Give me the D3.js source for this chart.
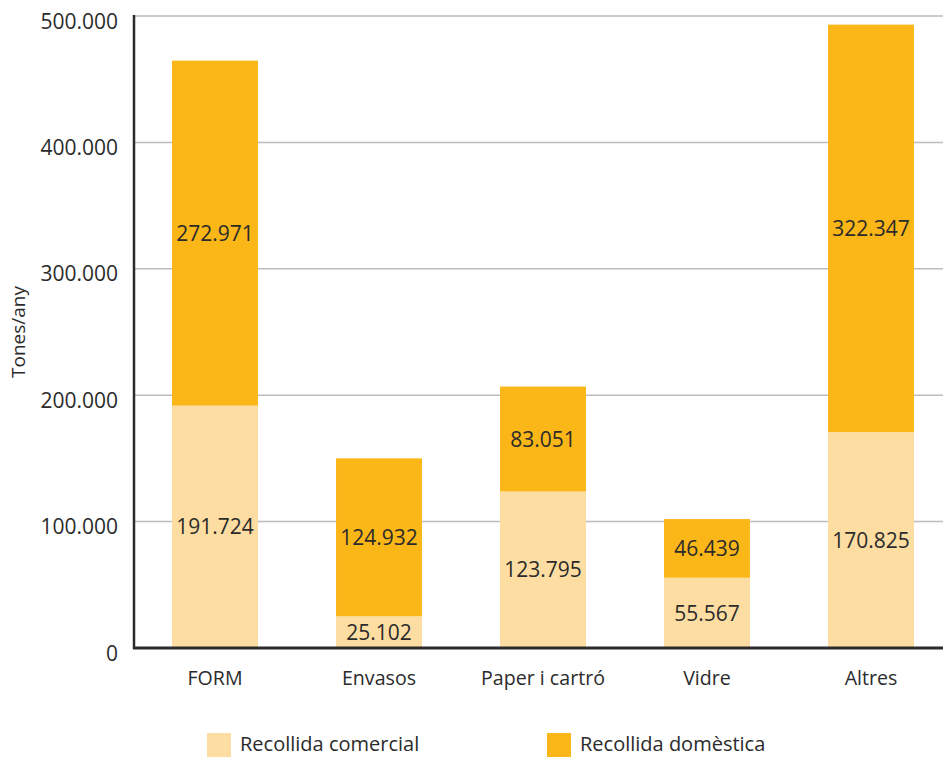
<!DOCTYPE html>
<html><head><meta charset="utf-8">
<script src="https://cdn.jsdelivr.net/npm/d3@7"></script>
<style>body{margin:0;background:#fff}svg{display:block}</style>
</head><body>
<svg id="c" width="943" height="758"></svg>
<script>
const categories = ["FORM","Envasos","Paper i cartró","Vidre","Altres"];
const comercial = [191724, 25102, 123795, 55567, 170825];
const domestica = [272971, 124932, 83051, 46439, 322347];
const seriesNames = ["Recollida comercial","Recollida domèstica"];
const yTicks = [0,100000,200000,300000,400000,500000];
const yTitle = "Tones/any";
const colors = ["#FDDDA1","#FBB717"];

const fmt = v => d3.format(",")(v).replace(/,/g,".");
const svg = d3.select("#c");
const font = "'Open Sans', sans-serif";
const x = d3.scaleBand().domain(categories).range([133,953]).paddingInner(0.476).paddingOuter(0.238);
const y = d3.scaleLinear().domain([0,500000]).range([648,16]);

// grid
svg.append("g").selectAll("line").data(yTicks.filter(t=>t>0)).join("line")
  .attr("x1",133).attr("x2",943).attr("y1",d=>y(d)).attr("y2",d=>y(d))
  .attr("stroke","#bdbdbd").attr("stroke-width",1.5);

const data = categories.map((c,i)=>({cat:c, comercial:comercial[i], domestica:domestica[i]}));
const stack = d3.stack().keys(["comercial","domestica"])(data);

const g = svg.append("g");
stack.forEach((s,si)=>{
  g.selectAll(null).data(s).join("rect")
    .attr("x",d=>x(d.data.cat)).attr("width",x.bandwidth())
    .attr("y",d=>y(d[1])).attr("height",d=>y(d[0])-y(d[1]))
    .attr("fill",colors[si]);
  g.selectAll(null).data(s).join("text")
    .attr("x",d=>x(d.data.cat)+x.bandwidth()/2)
    .attr("y",d=>(y(d[0])+y(d[1]))/2+2)
    .attr("text-anchor","middle").attr("dominant-baseline","middle")
    .attr("font-family",font).attr("font-size",21).attr("fill","#2b2b2b")
    .text(d=>fmt(d[1]-d[0]));
});

// axes lines
svg.append("line").attr("x1",134).attr("x2",134).attr("y1",15).attr("y2",649)
  .attr("stroke","#2b2b2b").attr("stroke-width",2.5);
svg.append("line").attr("x1",133).attr("x2",943).attr("y1",648).attr("y2",648)
  .attr("stroke","#2b2b2b").attr("stroke-width",3);

// y tick labels
svg.append("g").selectAll("text").data(yTicks).join("text")
  .attr("x",118).attr("y",d=>y(d)+7).attr("text-anchor","end").attr("dominant-baseline","middle")
  .attr("font-family",font).attr("font-size",21).attr("fill","#2b2b2b")
  .text(d=>fmt(d));

// x labels
svg.append("g").selectAll("text").data(categories).join("text")
  .attr("x",d=>x(d)+x.bandwidth()/2).attr("y",680).attr("text-anchor","middle").attr("dominant-baseline","middle")
  .attr("font-family",font).attr("font-size",19.6).attr("fill","#2b2b2b")
  .text(d=>d);

// y title
svg.append("text").attr("transform","translate(20,332) rotate(-90)")
  .attr("text-anchor","middle").attr("dominant-baseline","middle")
  .attr("font-family",font).attr("font-size",19).attr("fill","#2b2b2b").text(yTitle);

// legend
const legX = [207,547];
const lg = svg.append("g").selectAll("g").data(seriesNames).join("g")
  .attr("transform",(d,i)=>`translate(${legX[i]},733)`);
lg.append("rect").attr("width",24).attr("height",24).attr("fill",(d,i)=>colors[i]);
lg.append("text").attr("x",33).attr("y",13).attr("dominant-baseline","middle")
  .attr("font-family",font).attr("font-size",20).attr("fill","#2b2b2b").text(d=>d);
</script>
</body></html>
